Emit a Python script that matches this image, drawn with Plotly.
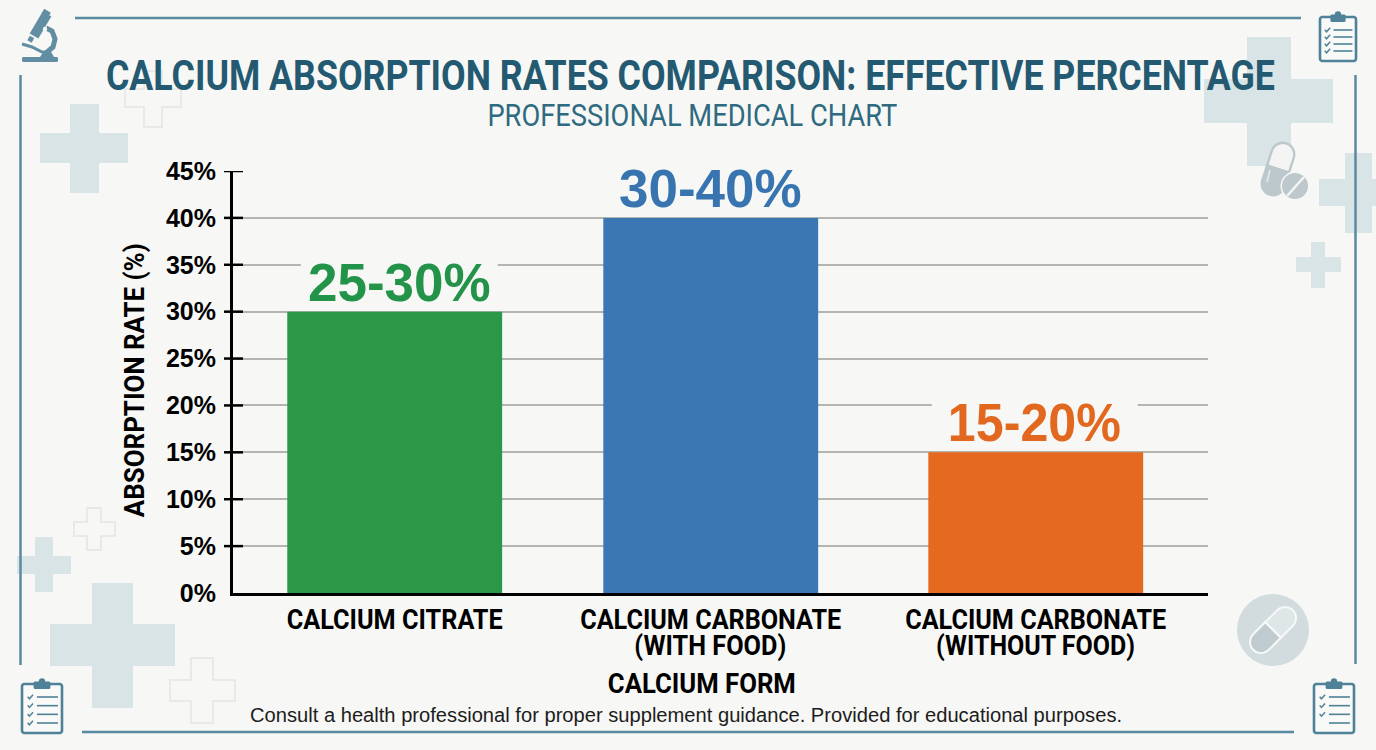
import json
import math
import plotly.graph_objects as go

# Chart data
forms = ["CALCIUM CITRATE", "CALCIUM CARBONATE", "CALCIUM CARBONATE"]
form_notes = ["", "(WITH FOOD)", "(WITHOUT FOOD)"]
form_slots = [-0.002, 0.985, 2]
absorption = [30, 40, 15]
range_labels = ["25-30%", "30-40%", "15-20%"]
bar_colors = ["#2a9846", "#3b77b2", "#e5691f"]
label_colors = ["#23934a", "#3875b0", "#e2681f"]
label_clear_width = [0.615, 0.672, 0.643]
label_nudge = [4.5, 0, -1]
y_ticks = [0, 5, 10, 15, 20, 25, 30, 35, 40, 45]

title_text = "CALCIUM ABSORPTION RATES COMPARISON: EFFECTIVE PERCENTAGE"
subtitle_text = "PROFESSIONAL MEDICAL CHART"
y_title = "ABSORPTION RATE (%)"
x_title = "CALCIUM FORM"
footer_text = "Consult a health professional for proper supplement guidance. Provided for educational purposes."

# Rendered widths for the condensed headings, in pixels
condensed_widths = {
    title_text: 1169,
    subtitle_text: 410,
    y_title: 274,
    x_title: 188,
    "CALCIUM CITRATE": 216,
    "CALCIUM CARBONATE": 261,
    "(WITH FOOD)": 152,
    "(WITHOUT FOOD)": 199,
    footer_text: 872,
    "15-20%": 173,
}

W, H = 1376, 750
BG = "#f7f7f5"
FRAME = "#5a8aa0"
ICON = "#4f8198"
SCOPE = "#628ea3"
CROSS = "#d9e4e6"
OUTLINE = "#e9e9e7"
GREY = "#bcc8cc"
NARROW = "Roboto, sans-serif"
SANS = "Liberation Sans, Arial, sans-serif"

shapes = []


def fx(x):
    return x / W


def fy(y):
    return 1 - y / H


def poly(points, close=True):
    body = "M" + " L".join(f"{fx(x):.5f},{fy(y):.5f}" for x, y in points)
    return body + (" Z" if close else "")


def add_path(points, fill=None, line=None, width=0, close=True):
    shapes.append(dict(
        type="path", xref="paper", yref="paper", layer="below",
        path=poly(points, close),
        fillcolor=fill if fill else "rgba(0,0,0,0)",
        line=dict(color=line if line else "rgba(0,0,0,0)", width=width),
    ))


def add_line(x0, y0, x1, y1, color, width):
    shapes.append(dict(
        type="line", xref="paper", yref="paper", layer="below",
        x0=fx(x0), y0=fy(y0), x1=fx(x1), y1=fy(y1),
        line=dict(color=color, width=width),
    ))


def add_circle(cx, cy, r, fill=None, line=None, width=0):
    shapes.append(dict(
        type="circle", xref="paper", yref="paper", layer="below",
        x0=fx(cx - r), x1=fx(cx + r), y0=fy(cy - r), y1=fy(cy + r),
        fillcolor=fill if fill else "rgba(0,0,0,0)",
        line=dict(color=line if line else "rgba(0,0,0,0)", width=width),
    ))


def cross(x0, x1, vx0, vx1, y0, y1, hy0, hy1, fill=None, line=None):
    pts = [(vx0, y0), (vx1, y0), (vx1, hy0), (x1, hy0), (x1, hy1), (vx1, hy1),
           (vx1, y1), (vx0, y1), (vx0, hy1), (x0, hy1), (x0, hy0), (vx0, hy0)]
    add_path(pts, fill=fill, line=line, width=2 if line else 0)


def rounded(x0, y0, x1, y1, r):
    pts = []
    corners = [(x1 - r, y0 + r, -90), (x1 - r, y1 - r, 0), (x0 + r, y1 - r, 90), (x0 + r, y0 + r, 180)]
    for cx, cy, start in corners:
        for k in range(7):
            a = math.radians(start + 15 * k)
            pts.append((cx + r * math.cos(a), cy + r * math.sin(a)))
    return pts


def capsule_half(cx, cy, length, r, angle, which):
    # Half capsule along the direction of angle; which=+1 is the far half
    a = math.radians(angle)
    ux, uy = math.cos(a), -math.sin(a)
    nx, ny = -uy, ux
    straight = length / 2 - r
    pts = []
    ex, ey = cx + which * ux * straight, cy + which * uy * straight
    pts.append((cx + nx * r, cy + ny * r))
    for k in range(13):
        t = math.pi * k / 12
        side = math.cos(t)
        fwd = math.sin(t)
        pts.append((ex + nx * r * side + which * ux * r * fwd,
                    ey + ny * r * side + which * uy * r * fwd))
    pts.append((cx - nx * r, cy - ny * r))
    return pts


def clipboard(x0, y0, x1, y1, checks, rows):
    w = x1 - x0
    add_path(rounded(x0 + 1, y0 + 6, x1 - 1, y1 - 1, 2.5), fill="#f9f9f7", line=ICON, width=2.6)
    cx = (x0 + x1) / 2
    add_path(rounded(cx - w * 0.2, y0 + 3.5, cx + w * 0.2, y0 + 11, 1.5), fill=ICON)
    add_circle(cx, y0 + 3.5, 3.2, fill=ICON)
    top, bottom = y0 + 19, y1 - 11
    step = (bottom - top) / (rows - 1)
    for i in range(rows):
        y = top + i * step
        add_line(x0 + w * 0.38, y, x1 - w * 0.12, y, ICON, 1.6)
        if i < checks:
            cxk = x0 + w * 0.22
            add_path([(cxk - 2.6, y - 0.3), (cxk - 0.8, y + 1.8), (cxk + 2.8, y - 2.2)],
                     line=ICON, width=1.5, close=False)


# Background crosses
cross(40, 128, 70, 99, 104, 193, 133, 163, fill=CROSS)
cross(1204, 1333, 1247, 1291, 37, 166, 79, 123, fill=CROSS)
cross(1319, 1400, 1345, 1372, 153, 233, 179, 206, fill=CROSS)
cross(1296, 1341, 1311, 1325, 242, 288, 257, 272, fill=CROSS)
cross(17, 71, 35, 53, 537, 592, 556, 574, fill=CROSS)
cross(50, 175, 92, 133, 583, 708, 624, 666, fill=CROSS)
cross(125, 181, 144, 162, 71, 127, 89, 107, line=OUTLINE)
cross(74, 115, 87, 101, 508, 550, 522, 536, line=OUTLINE)
cross(170, 235, 191, 213, 658, 723, 680, 701, line=OUTLINE)

# Frame rules
add_line(75, 18, 1301, 18, FRAME, 2.5)
add_line(82, 732, 1294, 732, FRAME, 2.5)
add_line(20.5, 75, 20.5, 665, FRAME, 2.5)
add_line(1355.5, 75, 1355.5, 664, FRAME, 2.5)

# Microscope
add_path(rounded(22, 57, 58, 62, 1.5), fill=SCOPE)
add_line(34, 36, 47, 14, SCOPE, 10)
add_line(43, 11, 49.5, 15, SCOPE, 5)
add_line(32, 37, 29.5, 41.5, SCOPE, 5)
add_path([(46, 28), (52, 31), (55, 39), (53, 47), (46, 53)], line=SCOPE, width=5, close=False)
add_path([(22, 44), (32, 47), (42, 52), (50, 52)], line=SCOPE, width=3, close=False)
add_path([(40, 57), (44, 51), (50, 50), (54, 57)], fill=SCOPE)
add_circle(45, 29, 2.2, fill="#f7f7f5")

# Clipboards
clipboard(1319, 11, 1357, 62, 4, 4)
clipboard(21, 678, 63, 734, 4, 4)
clipboard(1313, 678, 1355, 734, 3, 4)

# Capsule and tablet, upper right
add_path(capsule_half(1278, 169, 54, 11.5, 72, 1), fill="#f3f4f3", line=GREY, width=2.4)
add_path(capsule_half(1278, 169, 54, 11.5, 72, -1), fill=GREY, line=GREY, width=2.4)
add_line(1270, 170, 1267, 182, "#e6eaea", 1.6)
add_circle(1295, 186, 14.5, fill=BG)
add_circle(1295, 186, 13, fill=GREY)
add_line(1287, 196, 1304, 177, "#f3f4f3", 2.6)

# Capsule badge, lower right
add_circle(1273, 630, 36, fill="#d2dcdf")
add_path(capsule_half(1273, 630, 56, 11, 45, 1), fill="#dfe6e8", line="#f7f8f8", width=2)
add_path(capsule_half(1273, 630, 56, 11, 45, -1), fill="#bfcbce", line="#f7f8f8", width=2)

# Plot geometry
PLOT_L, PLOT_R, PLOT_T, PLOT_B = 233, 1208, 171, 593

# Short ticks straddling the y axis, placed from the tick values
for v in y_ticks[1:]:
    shapes.append(dict(
        type="line", xref="paper", yref="y", layer="above",
        x0=fx(224), x1=fx(243), y0=v, y1=v,
        line=dict(color="#000000", width=2.5),
    ))

# Clear the grid behind each range label
for i, v in enumerate(absorption):
    half = label_clear_width[i] / 2
    center = form_slots[i] + label_nudge[i] / 320
    shapes.append(dict(
        type="rect", xref="x", yref="y", layer="between",
        x0=center - half, x1=center + half,
        y0=v + 0.3, y1=v + 5.4,
        fillcolor=BG, line=dict(width=0),
    ))

fig = go.Figure(go.Bar(
    x=form_slots,
    y=absorption,
    marker=dict(color=bar_colors, line=dict(width=0)),
    width=0.671,
    showlegend=False,
    hoverinfo="skip",
))

annotations = []


def text(x, y, s, size, color, family=NARROW, weight="normal", angle=0):
    annotations.append(dict(
        xref="paper", yref="paper", x=fx(x), y=fy(y), text=s, showarrow=False,
        xanchor="center", yanchor="middle", textangle=angle,
        font=dict(family=family, size=size, color=color, weight=weight),
    ))


text(690, 75, title_text, 43, "#235a72", weight="bold")
text(693, 115, subtitle_text, 32, "#2e6a80")
text(135, 380, y_title, 27, "#000000", weight="bold", angle=-90)
text(702, 684, x_title, 27, "#000000", weight="bold")
text(686, 715, footer_text, 20, "#1c1c1c", family=SANS)

for i, note in enumerate(form_notes):
    if note:
        annotations.append(dict(
            xref="x", yref="paper", x=form_slots[i], y=fy(646), text=note, showarrow=False,
            xanchor="center", yanchor="middle",
            font=dict(family=NARROW, size=27, color="#000000", weight="bold"),
        ))

for i, (v, lab) in enumerate(zip(absorption, range_labels)):
    annotations.append(dict(
        xref="x", yref="y", x=form_slots[i], y=v, text=lab, showarrow=False,
        xanchor="center", yanchor="bottom", yshift=-2, xshift=label_nudge[i],
        font=dict(family=SANS, size=53, color=label_colors[i], weight="bold"),
    ))

fig.update_layout(
    width=W, height=H,
    margin=dict(l=0, r=0, t=0, b=0, autoexpand=False),
    paper_bgcolor=BG,
    plot_bgcolor="rgba(0,0,0,0)",
    shapes=shapes,
    annotations=annotations,
    xaxis=dict(
        domain=[fx(PLOT_L), fx(PLOT_R)],
        range=[-0.507, 2.538],
        tickmode="array", tickvals=form_slots, ticktext=forms,
        tickfont=dict(family=NARROW, size=27, color="#000000", weight="bold"),
        ticks="outside", ticklen=1, tickcolor="rgba(0,0,0,0)",
        showline=True, linecolor="#000000", linewidth=3,
        showgrid=False, zeroline=False,
    ),
    yaxis=dict(
        domain=[fy(PLOT_B), fy(PLOT_T)],
        range=[0, 45],
        tickmode="array", tickvals=y_ticks, ticktext=[f"{t}%" for t in y_ticks],
        tickfont=dict(family=SANS, size=25, color="#000000", weight="bold"),
        ticks="outside", ticklen=9, tickcolor="rgba(0,0,0,0)",
        showline=True, linecolor="#000000", linewidth=3,
        showgrid=True, gridcolor="#b4b4b1", gridwidth=1.5,
        zeroline=False,
    ),
)

# Squeeze the heading glyphs to their condensed widths once the text exists
condense_js = """
var gd = document.getElementById('{plot_id}');
var widths = %s;
function condense() {
  gd.querySelectorAll('text').forEach(function (el) {
    var w = widths[el.textContent];
    if (w) {
      el.setAttribute('textLength', w);
      el.setAttribute('lengthAdjust', 'spacingAndGlyphs');
    }
  });
}
condense();
gd.on('plotly_afterplot', condense);
""" % json.dumps(condensed_widths)

fig.write_html("out.html", post_script=condense_js)
